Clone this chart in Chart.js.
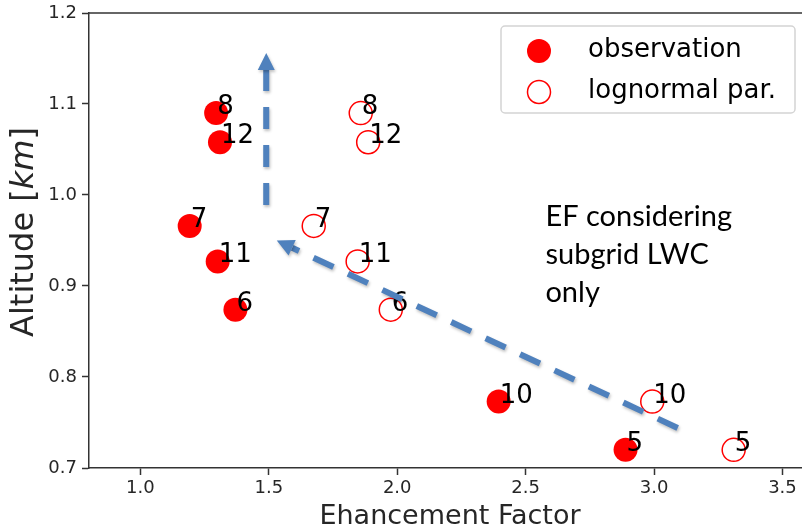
<!DOCTYPE html>
<html>
<head>
<meta charset="utf-8">
<script src="https://cdn.jsdelivr.net/npm/chart.js@4.4.1/dist/chart.umd.min.js"></script>
<style>
  html, body { margin: 0; padding: 0; background: #fff; }
  #wrap { width: 802px; height: 532px; }
</style>
</head>
<body>
<div id="wrap"><canvas id="efChart" width="802" height="532"></canvas></div>
<script>
// case numbers, altitude [km] and enhancement factor of each case
var caseIds = ['8', '12', '7', '11', '6', '10', '5'];
var altitude = [1.090, 1.058, 0.966, 0.927, 0.874, 0.773, 0.720];
var efObservation = [1.295, 1.310, 1.192, 1.301, 1.370, 2.395, 2.889];
var efLognormal = [1.858, 1.887, 1.675, 1.846, 1.975, 2.993, 3.310];

var xTicks = [1.0, 1.5, 2.0, 2.5, 3.0, 3.5];
var yTicks = [0.7, 0.8, 0.9, 1.0, 1.1, 1.2];

// dashed arrows, in data units: [ef, altitude] from tail to head
var arrows = [
	{ from: [1.49, 0.989], to: [1.49, 1.156] },
	{ from: [3.092, 0.744], to: [1.531, 0.950] }
];
var noteLines = ['EF considering', 'subgrid LWC', 'only'];
var notePos = [2.577, 0.976];

var RED = '#ff0000';
var BLUE = '#4f81bd';
var TXT = '#262626';

function points(xs) {
	return xs.map(function (x, i) { return { x: x, y: altitude[i] }; });
}

function noPad(s) {
	s.paddingLeft = 0;
	s.paddingRight = 0;
	s.paddingTop = 0;
	s.paddingBottom = 0;
}

var overlay = {
	id: 'overlay',
	afterDraw: function (chart) {
		var c = chart.ctx, a = chart.chartArea;
		var sx = chart.scales.x, sy = chart.scales.y;
		c.save();

		// top spine
		c.strokeStyle = '#333';
		c.lineWidth = 1.5;
		c.beginPath();
		c.moveTo(a.left, a.top);
		c.lineTo(a.right, a.top);
		c.stroke();

		// case labels next to every marker
		c.fillStyle = '#000';
		c.font = '26px "DejaVu Sans"';
		c.textAlign = 'left';
		c.textBaseline = 'alphabetic';
		[efObservation, efLognormal].forEach(function (xs) {
			xs.forEach(function (x, i) {
				c.fillText(caseIds[i], sx.getPixelForValue(x) + 1, sy.getPixelForValue(altitude[i]) + 1);
			});
		});

		// arrows
		arrows.forEach(function (ar) {
			var x0 = sx.getPixelForValue(ar.from[0]), y0 = sy.getPixelForValue(ar.from[1]);
			var x1 = sx.getPixelForValue(ar.to[0]), y1 = sy.getPixelForValue(ar.to[1]);
			var ang = Math.atan2(y1 - y0, x1 - x0);
			var head = 17;
			var bx = x1 - head * Math.cos(ang), by = y1 - head * Math.sin(ang);
			c.save();
			c.shadowColor = 'rgba(0,0,0,0.25)';
			c.shadowBlur = 3;
			c.shadowOffsetX = 1;
			c.shadowOffsetY = 2;
			c.strokeStyle = BLUE;
			c.lineWidth = 6;
			c.lineCap = 'butt';
			c.setLineDash([22, 16]);
			c.beginPath();
			c.moveTo(x0, y0);
			c.lineTo(bx, by);
			c.stroke();
			c.setLineDash([]);
			c.fillStyle = BLUE;
			c.beginPath();
			c.moveTo(x1, y1);
			c.lineTo(bx + 8.5 * Math.sin(ang), by - 8.5 * Math.cos(ang));
			c.lineTo(bx - 8.5 * Math.sin(ang), by + 8.5 * Math.cos(ang));
			c.closePath();
			c.fill();
			c.restore();
		});

		// note text
		c.fillStyle = '#000';
		c.font = '29px Lato';
		c.textBaseline = 'middle';
		var nx = sx.getPixelForValue(notePos[0]), ny = sy.getPixelForValue(notePos[1]);
		noteLines.forEach(function (t, i) { c.fillText(t, nx, ny + i * 38); });

		// legend
		var lx = a.right - 301, ly = a.top + 13, lw = 294, lh = 87;
		c.fillStyle = 'rgba(255,255,255,0.8)';
		c.strokeStyle = '#d4d4d4';
		c.lineWidth = 1.5;
		c.beginPath();
		c.roundRect(lx, ly, lw, lh, 4);
		c.fill();
		c.stroke();
		chart.data.datasets.forEach(function (ds, i) {
			var my = ly + 25 + i * 41;
			c.beginPath();
			c.arc(lx + 38, my, ds.pointRadius, 0, Math.PI * 2);
			if (ds.borderWidth) {
				c.strokeStyle = ds.borderColor;
				c.lineWidth = ds.borderWidth;
				c.stroke();
			} else {
				c.fillStyle = ds.backgroundColor;
				c.fill();
			}
			c.fillStyle = '#000';
			c.font = '26px "DejaVu Sans"';
			c.textBaseline = 'middle';
			c.fillText(ds.label, lx + 87, my - 1);
		});

		// axis titles
		c.fillStyle = TXT;
		c.textAlign = 'center';
		c.textBaseline = 'middle';
		c.font = '27px "DejaVu Sans"';
		c.fillText('Ehancement Factor', 450, 517);

		c.save();
		c.translate(25, 232);
		c.rotate(-Math.PI / 2);
		var p1 = 'Altitude [', p2 = 'km', p3 = ']';
		var f1 = '32px "DejaVu Sans"', f2 = 'italic 32px "DejaVu Sans"';
		c.font = f1; var w1 = c.measureText(p1).width, w3 = c.measureText(p3).width;
		c.font = f2; var w2 = c.measureText(p2).width;
		var start = -(w1 + w2 + w3) / 2;
		c.textAlign = 'left';
		c.font = f1; c.fillText(p1, start, 0);
		c.font = f2; c.fillText(p2, start + w1, 0);
		c.font = f1; c.fillText(p3, start + w1 + w2, 0);
		c.restore();

		c.restore();
	}
};

var tickFont = { family: 'DejaVu Sans', size: 18 };

new Chart(document.getElementById('efChart'), {
	type: 'scatter',
	data: {
		datasets: [
			{
				label: 'observation',
				data: points(efObservation),
				backgroundColor: RED,
				borderColor: RED,
				borderWidth: 0,
				pointRadius: 12,
				pointHoverRadius: 12
			},
			{
				label: 'lognormal par.',
				data: points(efLognormal),
				backgroundColor: 'rgba(0,0,0,0)',
				borderColor: RED,
				borderWidth: 1.5,
				pointRadius: 11.5,
				pointHoverRadius: 11.5
			}
		]
	},
	options: {
		responsive: false,
		animation: false,
		devicePixelRatio: 1,
		layout: { autoPadding: false, padding: { top: 13, right: 0, left: 0, bottom: 0 } },
		plugins: {
			legend: { display: false },
			tooltip: { enabled: false }
		},
		scales: {
			x: {
				type: 'linear',
				min: 0.8,
				max: 3.576,
				afterBuildTicks: function (s) { s.ticks = xTicks.map(function (v) { return { value: v }; }); },
				afterFit: function (s) { s.height = 64; noPad(s); },
				ticks: {
					font: tickFont,
					color: TXT,
					padding: 3,
					maxRotation: 0,
					callback: function (v) { return v.toFixed(1); }
				},
				grid: { drawOnChartArea: false, tickLength: 7, tickColor: '#333', tickWidth: 1.5 },
				border: { color: '#333', width: 1.5 }
			},
			y: {
				type: 'linear',
				min: 0.7,
				max: 1.2,
				afterBuildTicks: function (s) { s.ticks = yTicks.map(function (v) { return { value: v }; }); },
				afterFit: function (s) { s.width = 89; noPad(s); },
				ticks: {
					font: tickFont,
					color: TXT,
					padding: 5,
					callback: function (v) { return v.toFixed(1); }
				},
				grid: { drawOnChartArea: false, tickLength: 7, tickColor: '#333', tickWidth: 1.5 },
				border: { color: '#333', width: 1.5 }
			}
		}
	},
	plugins: [overlay]
});
</script>
</body>
</html>
